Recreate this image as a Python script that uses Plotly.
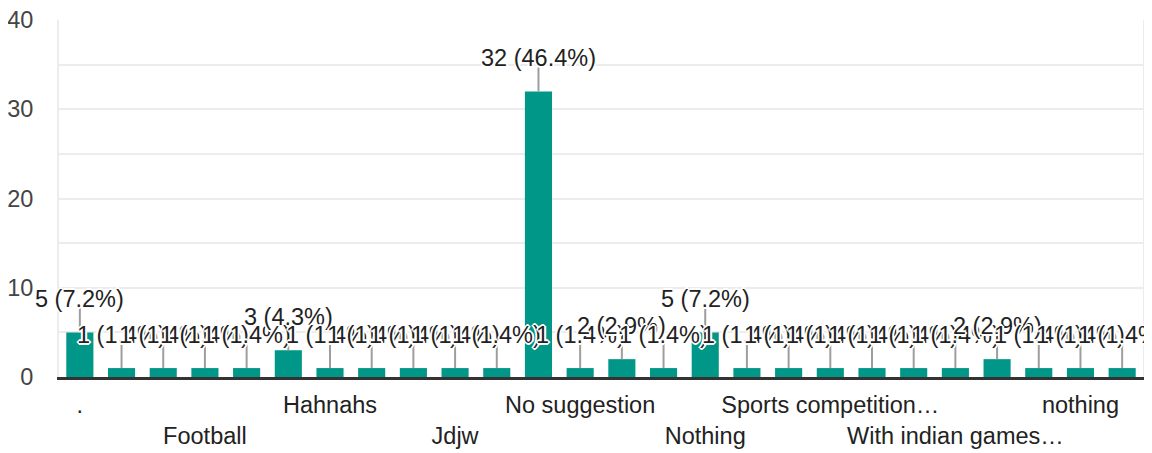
import plotly.graph_objects as go

# ---- data ----
categories = [".", "", "", "Football", "", "", "Hahnahs", "", "", "Jdjw", "", "",
              "No suggestion", "", "", "Nothing", "", "", "Sports competition…", "", "",
              "With indian games…", "", "", "nothing", ""]
values = [5, 1, 1, 1, 1, 3, 1, 1, 1, 1, 1, 32, 1, 2, 1, 5, 1, 1, 1, 1, 1, 1, 2, 1, 1, 1]
y_ticks = [0, 10, 20, 30, 40]

total = sum(values)
xs = list(range(len(values)))

BAR = "#009688"
FONT = "Liberation Sans, Arial, sans-serif"
FS = 23.5

fig = go.Figure()
fig.add_trace(go.Bar(x=xs, y=values, marker=dict(color=BAR, line=dict(width=0)),
                     hoverinfo="skip"))

# tick labels: shown ones alternate between two rows
tickvals, ticktext = [], []
row = 0
for i, c in enumerate(categories):
    if c:
        tickvals.append(i)
        ticktext.append(c if row == 0 else "<br>" + c)
        row = 1 - row

shapes = []
annotations = []
halo = ("2px 0 0 #fff, -2px 0 0 #fff, 0 2px 0 #fff, 0 -2px 0 #fff, "
        "1px 1px 0 #fff, -1px -1px 0 #fff, 1px -1px 0 #fff, -1px 1px 0 #fff")
for i, v in enumerate(values):
    pct = round(v / total * 100, 1)
    shapes.append(dict(type="line", xref="x", yref="y", ysizemode="pixel",
                       yanchor=v, x0=i, x1=i, y0=0, y1=24,
                       line=dict(color="#9e9e9e", width=2), layer="above"))
    annotations.append(dict(x=i, y=v, xref="x", yref="y", text=f"{v} ({pct}%)",
                            showarrow=False, yshift=33, yanchor="middle",
                            font=dict(family=FONT, size=FS, color="#222",
                                      shadow=halo)))

# the page body has an 8px default margin, so the figure is sized/offset to compensate
fig.update_layout(
    width=1144, height=445,
    margin=dict(l=51, r=9, t=12, b=76, autoexpand=False),
    paper_bgcolor="white", plot_bgcolor="white",
    showlegend=False, bargap=0.35,
    shapes=shapes, annotations=annotations,
    font=dict(family=FONT, size=FS, color="#222"),
)
fig.update_xaxes(range=[-0.5, len(values) - 0.5], tickmode="array",
                 tickvals=tickvals, ticktext=ticktext, tickangle=0,
                 showgrid=False, showline=True, linecolor="#333", linewidth=3,
                 ticks="", ticklabelstandoff=5, automargin=False,
                 ticklabeloverflow="allow",
                 tickfont=dict(family=FONT, size=FS, color="#222"))
fig.update_yaxes(range=[0, 40], tickmode="array", tickvals=y_ticks,
                 showgrid=True, gridcolor="#ececec", gridwidth=2,
                 minor=dict(dtick=5, showgrid=True, gridcolor="#ececec", gridwidth=2),
                 zeroline=False, showline=True, linecolor="#ececec", linewidth=2,
                 mirror=True, ticks="", ticklabelstandoff=19, automargin=False,
                 ticklabeloverflow="allow",
                 tickfont=dict(family=FONT, size=FS, color="#444"))

fig.write_html("out.html")
